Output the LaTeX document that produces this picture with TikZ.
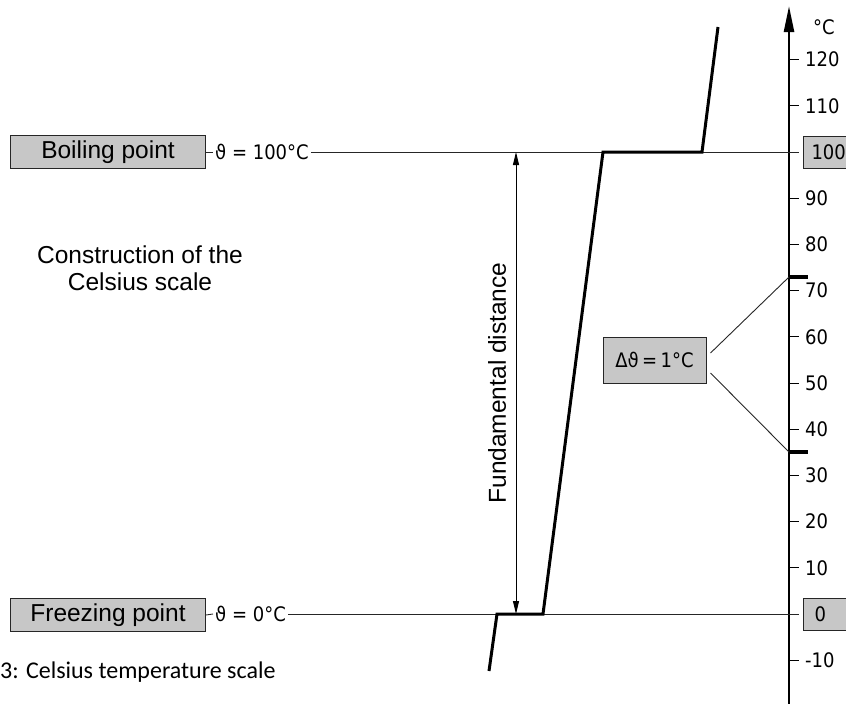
\documentclass[tikz,border=0pt]{standalone}
\usepackage{fontspec}
\setmainfont{Liberation Sans}
\newfontfamily\dinfont{DejaVu Sans Condensed}
\newfontfamily\capfont{Carlito}
\usetikzlibrary{arrows.meta}
\begin{document}
\begin{tikzpicture}[x=1pt,y=-1pt,
  gbox/.style={draw=black!85,line width=1pt,fill=black!22,inner sep=0pt},
  thinline/.style={line width=0.9pt,black!85},
  curve/.style={line width=3pt,line join=miter},
  axisline/.style={line width=2.4pt},
  tick/.style={line width=1pt},
  bar/.style={line width=4.5pt},
  scalelab/.style={font=\dinfont\fontsize{20}{22}\selectfont,anchor=west,inner sep=0pt},
  thetalab/.style={font=\dinfont\fontsize{20}{22}\selectfont,anchor=west,inner sep=2pt},
  bigtext/.style={font=\fontsize{24.5}{27}\selectfont}
]
\useasboundingbox (0,0) rectangle (846,704);

% axis
\coordinate (axbot) at (789,704);
\coordinate (axtop) at (789,6);
\draw[axisline,-{Triangle[length=26pt,width=10pt]}] (axbot) -- (axtop);
\node[scalelab] (unit) at (813,27) {°C};

% ticks and labels
\foreach \v in {-10,10,20,30,40,50,60,70,80,90,110,120}{
  \coordinate (t\v) at (789,{614-4.62*\v});
  \coordinate (te\v) at (799,{614-4.62*\v});
  \draw[tick] (t\v) -- (te\v);
  \node[scalelab] (l\v) at (805,{614-4.62*\v}) {\v};
}
% boxed 100 and 0
\coordinate (a100) at (799,152);
\coordinate (a0) at (799,614);
\node[gbox,anchor=west,minimum height=32pt,text width=34pt,align=left,inner xsep=8pt,
      font=\dinfont\fontsize{20}{22}\selectfont] (b100) at (803,152) {100};
\node[gbox,anchor=west,minimum height=32pt,text width=34pt,align=left,inner xsep=11pt,
      font=\dinfont\fontsize{20}{22}\selectfont] (b0) at (803,614) {0};

% boiling / freezing
\node[gbox,anchor=north west,minimum width=195pt,minimum height=33pt,bigtext] (boil) at (10,135) {Boiling point};
\node[gbox,anchor=north west,minimum width=195pt,minimum height=33pt,bigtext] (freeze) at (10,598) {Freezing point};
\node[thetalab] (blab) at (213,152) {ϑ = 100°C};
\node[thetalab] (flab) at (213,614) {ϑ = 0°C};
\draw[thinline] (boil.east) -- (blab.west);
\draw[thinline] (freeze.east) -- (flab.west);
\draw[thinline] (blab.east) -- (a100);
\draw[thinline] (flab.east) -- (a0);

% construction text
\node[bigtext,align=center] (constr) at (140,268) {Construction of the\\Celsius scale};

% fundamental distance
\coordinate (fd1) at (516,152);
\coordinate (fd2) at (516,614);
\draw[line width=0.9pt,{Triangle[length=13pt,width=6pt]}-{Triangle[length=13pt,width=6pt]}] (fd2) -- (fd1);
\node[bigtext,rotate=90] (fdl) at (497,383) {Fundamental distance};

% heating curve
\coordinate (c1) at (489,671);
\coordinate (c2) at (497,614);
\coordinate (c3) at (543,614);
\coordinate (c4) at (603,152);
\coordinate (c5) at (702,152);
\coordinate (c6) at (718,27);
\draw[curve] (c1) -- (c2) -- (c3) -- (c4) -- (c5) -- (c6);

% delta box
\node[gbox,minimum width=103pt,minimum height=46pt,font=\dinfont\fontsize{20}{22}\selectfont] (dbox) at (654.5,360) {Δϑ\,=\,1°C};
\coordinate (m73) at (789,277);
\coordinate (m35) at (789,452);
\draw[bar] (m73) -- ++(19,0);
\draw[bar] (m35) -- ++(19,0);
\draw[thinline] ([shift={(4,-7)}]dbox.east) -- (m73);
\draw[thinline] ([shift={(4,13)}]dbox.east) -- (m35);

% caption
\node[anchor=base west,inner sep=0pt,font=\capfont\fontsize{24}{28}\selectfont] (cap) at (0,678) {3: Celsius temperature scale};
\end{tikzpicture}
\end{document}
